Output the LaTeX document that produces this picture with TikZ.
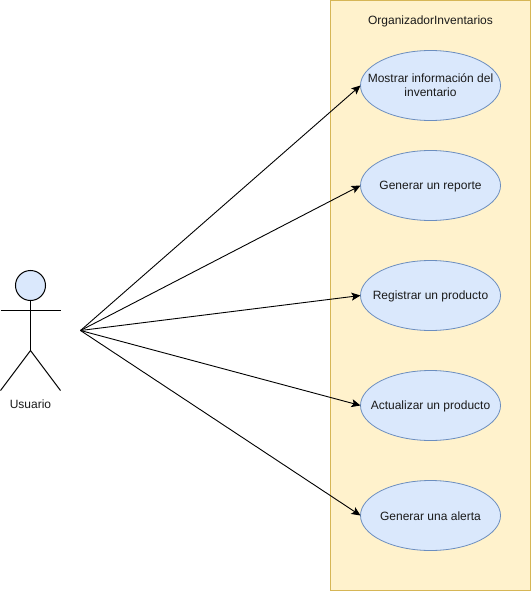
\documentclass[tikz,border=0pt]{standalone}
\usepackage{fontspec}
\setmainfont{Liberation Sans}
\usepackage{xcolor}
\usetikzlibrary{positioning,arrows.meta,shapes.geometric}
\definecolor{SystemFill}{HTML}{FFF2CC}
\definecolor{SystemLine}{HTML}{D6B656}
\definecolor{CaseFill}{HTML}{DAE8FC}
\definecolor{CaseLine}{HTML}{6C8EBF}
\definecolor{TextGray}{HTML}{1A1A1A}

\begin{document}
\begin{tikzpicture}[
  x=1pt,y=-1pt,
  node distance=40pt,
  every node/.style={font=\fontsize{12}{14}\selectfont,align=center,text=TextGray},
  system/.style={draw=SystemLine,fill=SystemFill,line width=1pt,minimum width=200pt,minimum height=590pt,inner sep=0pt},
  usecase/.style={ellipse,draw=CaseLine,fill=CaseFill,line width=0.8pt,minimum width=140pt,minimum height=70pt,inner xsep=-30pt,inner ysep=0pt,outer sep=0pt,execute at begin node=\rule{0pt}{11pt}},
  head/.style={circle,draw=black,fill=CaseFill,line width=1pt,minimum size=30pt,inner sep=0pt},
  limb/.style={draw=black,line width=1pt},
  arr/.style={-{Stealth[length=9pt,width=8pt,inset=2pt]},line width=0.9pt,draw=black}
]
  \useasboundingbox (0,0) rectangle (531,591);

  \node[system] (sistema) at (430.5,295.5) {};
  \node (titulo) at (430.5,21.5) {OrganizadorInventarios};

  \node[usecase] (mostrar) at (430.5,85.5) {Mostrar información del\\inventario};
  \node[usecase,below=30pt of mostrar] (reporte) {Generar un reporte};
  \node[usecase,below=of reporte] (registrar) {Registrar un producto};
  \node[usecase,below=of registrar] (actualizar) {Actualizar un producto};
  \node[usecase,below=of actualizar] (alerta) {Generar una alerta};

  \node[head] (cabeza) at (30.5,285.5) {};
  \coordinate (manoizq) at (0.5,310.5);
  \coordinate (manoder) at (60.5,310.5);
  \coordinate (cadera) at (30.5,350.5);
  \coordinate (pieizq) at (0.5,390.5);
  \coordinate (pieder) at (60.5,390.5);
  \node (usuario) at (30.5,404) {Usuario};
  \coordinate (origen) at (80.5,330.5);

  \draw[limb] (cabeza) -- (cadera);
  \draw[limb] (manoizq) -- (manoder);
  \draw[limb] (pieizq) -- (cadera) -- (pieder);

  \draw[arr] (origen) -- (mostrar.west);
  \draw[arr] (origen) -- (reporte.west);
  \draw[arr] (origen) -- (registrar.west);
  \draw[arr] (origen) -- (actualizar.west);
  \draw[arr] (origen) -- (alerta.west);
\end{tikzpicture}
\end{document}
